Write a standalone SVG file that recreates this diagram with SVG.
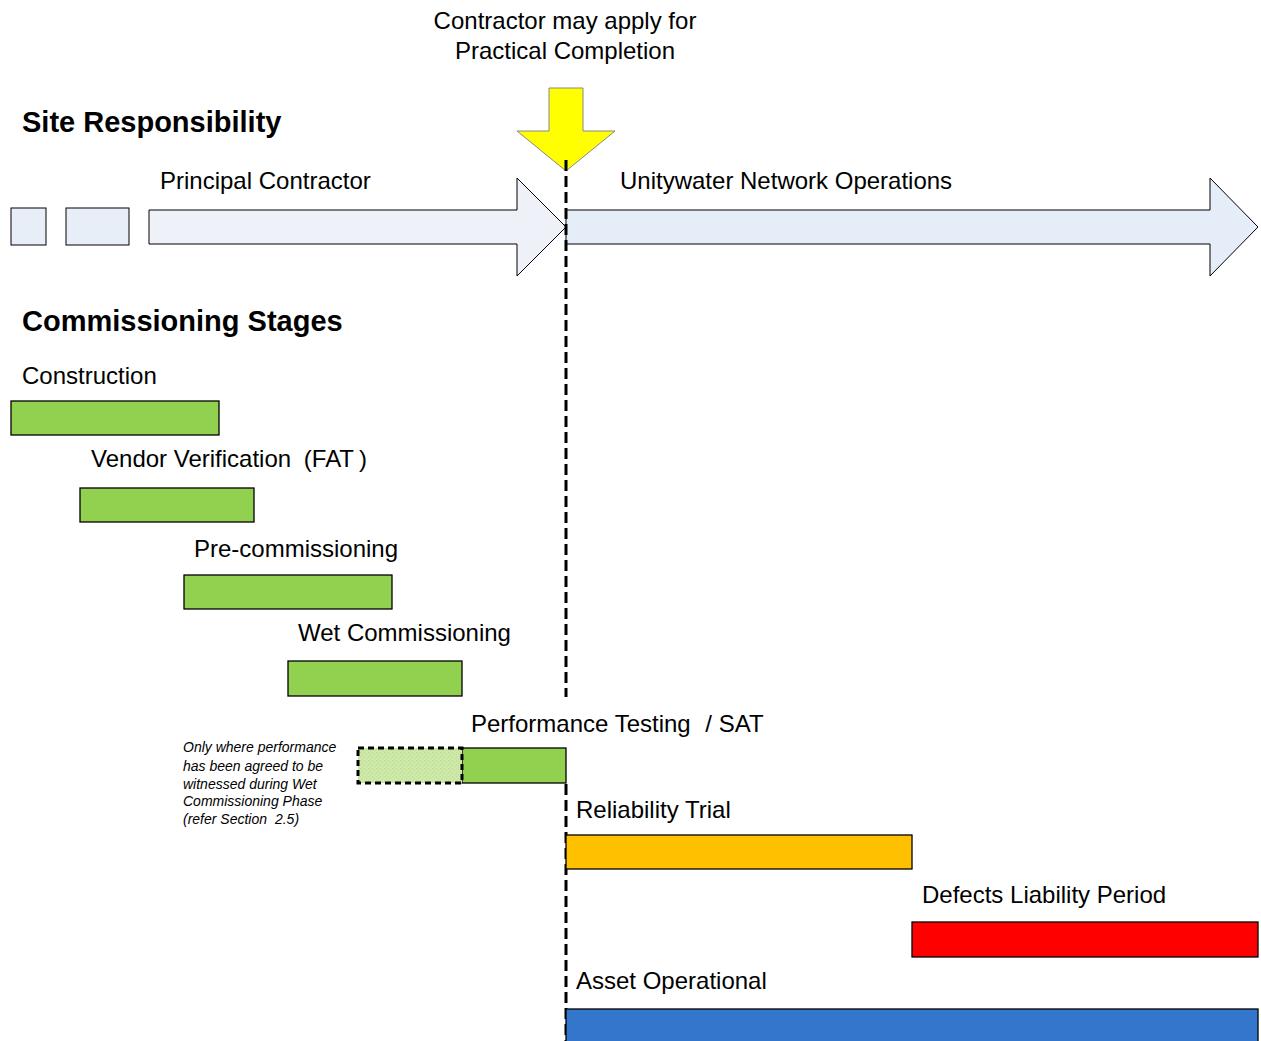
<svg xmlns="http://www.w3.org/2000/svg" width="1261" height="1041" viewBox="0 0 1261 1041">
<defs>
<style>
.t{font-family:"Liberation Sans",Arial,sans-serif;font-size:24px;fill:#000}
.h{font-family:"Liberation Sans",Arial,sans-serif;font-size:29px;font-weight:bold;fill:#000}
.n{font-family:"Liberation Sans",Arial,sans-serif;font-size:14px;font-style:italic;fill:#000}
.bar{stroke:#000;stroke-width:1.3}
.g{fill:#92D050}
.arr{stroke:#000;stroke-width:1}
.dash{stroke:#000;stroke-width:3;stroke-dasharray:11 5;fill:none}
</style>
<pattern id="hatch" width="4" height="4" patternUnits="userSpaceOnUse">
<rect width="4" height="4" fill="#CDE8A8"/>
<rect width="1" height="1" fill="#B8DC88"/>
<rect x="2" y="2" width="1" height="1" fill="#B8DC88"/>
</pattern>
</defs>
<rect width="1261" height="1041" fill="#fff"/>

<g id="headers">
<text class="h" x="22" y="132">Site Responsibility</text>
<text class="h" x="22" y="331">Commissioning Stages</text>
</g>

<g id="practical-completion">
<text class="t" x="565" y="29" text-anchor="middle">Contractor may apply for</text>
<text class="t" x="565" y="59" text-anchor="middle">Practical Completion</text>
<polygon points="549,88 583,88 583,131 615,131 566,171 517,131 549,131" fill="#FFFF00" stroke="#888" stroke-width="1"/>
</g>

<g id="principal-contractor">
<rect x="11" y="208" width="35" height="37" fill="#E8EEF7" class="arr"/>
<rect x="66" y="208" width="63" height="37" fill="#E8EEF7" class="arr"/>
<polygon points="149,210 517,210 517,178 566,227 517,276 517,244 149,244" fill="#EEF2F8" class="arr"/>
<text class="t" x="160" y="189">Principal Contractor</text>
</g>

<g id="unitywater">
<polygon points="566,210 1210,210 1210,178 1258,227 1210,276 1210,244 566,244" fill="#E5EDF8" class="arr"/>
<text class="t" x="620" y="189">Unitywater Network Operations</text>
</g>

<g id="connectors">
<line class="dash" x1="566" y1="160" x2="566" y2="697"/>
<line class="dash" x1="566" y1="784" x2="566" y2="1041"/>
</g>

<g id="construction">
<text class="t" x="22" y="384">Construction</text>
<rect class="bar g" x="11" y="401" width="208" height="34"/>
</g>

<g id="vendor-verification">
<text class="t" x="91" y="467">Vendor Verification <tspan dx="6">(FAT</tspan><tspan dx="5">)</tspan></text>
<rect class="bar g" x="80" y="488" width="174" height="34"/>
</g>

<g id="pre-commissioning">
<text class="t" x="194" y="557">Pre-commissioning</text>
<rect class="bar g" x="184" y="575" width="208" height="34"/>
</g>

<g id="wet-commissioning">
<text class="t" x="298" y="641">Wet Commissioning</text>
<rect class="bar g" x="288" y="661" width="174" height="35"/>
</g>

<g id="performance-testing">
<text class="t" x="471" y="732">Performance Testing <tspan dx="8">/ SAT</tspan></text>
<rect class="bar g" x="462" y="748" width="104" height="35"/>
<rect x="358" y="748" width="104" height="35" fill="url(#hatch)" stroke="#000" stroke-width="3" stroke-dasharray="6 4"/>
<text class="n" x="183" y="752">Only where performance</text>
<text class="n" x="183" y="771">has been agreed to be</text>
<text class="n" x="183" y="789">witnessed during Wet</text>
<text class="n" x="183" y="806">Commissioning Phase</text>
<text class="n" x="183" y="824">(refer Section <tspan dx="4">2.5)</tspan></text>
</g>

<g id="reliability-trial">
<text class="t" x="576" y="818">Reliability Trial</text>
<rect class="bar" x="566" y="835" width="346" height="34" fill="#FFC000"/>
</g>

<g id="defects-liability">
<text class="t" x="922" y="903">Defects Liability Period</text>
<rect class="bar" x="912" y="922" width="346" height="35" fill="#FF0000"/>
</g>

<g id="asset-operational">
<text class="t" x="576" y="989">Asset Operational</text>
<rect class="bar" x="566" y="1009" width="692" height="40" fill="#3576CD"/>
</g>
</svg>
